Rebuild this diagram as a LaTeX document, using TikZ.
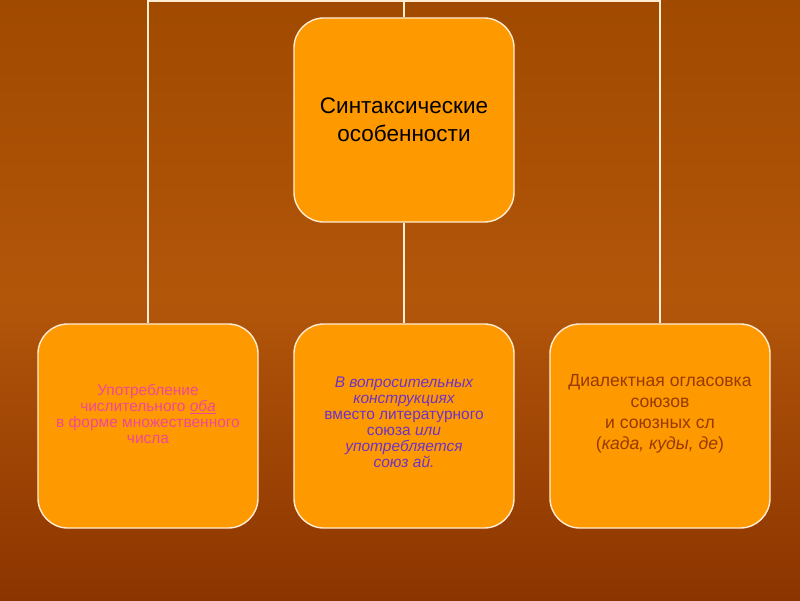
\documentclass[tikz,border=0pt]{standalone}
\usepackage{fontspec}
\setmainfont{Liberation Sans}
\usepackage{tikz}

\definecolor{boxfill}{RGB}{255,153,0}
\definecolor{boxedge}{RGB}{255,236,210}
\definecolor{bgtop}{RGB}{160,74,0}
\definecolor{bgmid}{RGB}{178,86,10}
\definecolor{bgbot}{RGB}{140,52,0}
\definecolor{pinktext}{RGB}{240,72,150}
\definecolor{violettext}{RGB}{110,50,200}
\definecolor{browntext}{RGB}{150,58,0}

\begin{document}
\begin{tikzpicture}[x=0.025cm, y=-0.025cm,
  box/.style={draw=boxedge, line width=1pt, fill=boxfill, rounded corners=0.75cm,
    minimum width=5.5cm, minimum height=5.1cm, inner sep=0pt},
  txt/.style={align=center, inner sep=0pt},
  link/.style={draw=boxedge, line width=1.2pt}]
  \useasboundingbox (0,0) rectangle (800,600);
  \shade[top color=bgtop, bottom color=bgmid] (0,0) rectangle (800,300);
  \shade[top color=bgmid, bottom color=bgbot] (0,300) rectangle (800,600);

  \coordinate (topl) at (148,1);
  \coordinate (topr) at (660,1);

  \node[box] (main) at (404,120) {};
  \node[box] (left) at (148,426) {};
  \node[box] (mid) at (404,426) {};
  \node[box] (right) at (660,426) {};

  \node[txt, font=\fontsize{16}{20}\selectfont] (maintext) at (404,120)
    {Синтаксические\\особенности};
  \node[txt, text=pinktext, font=\fontsize{11}{11.4}\selectfont] (lefttext) at (148,414)
    {Употребление\\числительного \underline{\itshape оба}\\в форме множественного\\числа};
  \node[txt, text=violettext, font=\fontsize{11}{11.4}\selectfont] (midtext) at (404,422)
    {\itshape В вопросительных\\\itshape конструкциях\\вместо литературного\\союза \textit{или}\\\itshape употребляется\\\itshape союз ай.};
  \node[txt, text=browntext, font=\fontsize{12.5}{15}\selectfont] (righttext) at (660,414)
    {Диалектная огласовка\\союзов\\и союзных сл\\(\textit{када, куды, де})};

  \draw[link] (left.north) -- (left.north |- topl) -- (topr) -- (right.north);
  \draw[link] (main.north) -- (main.north |- topl);
  \draw[link] (main.south) -- (mid.north);
\end{tikzpicture}
\end{document}
